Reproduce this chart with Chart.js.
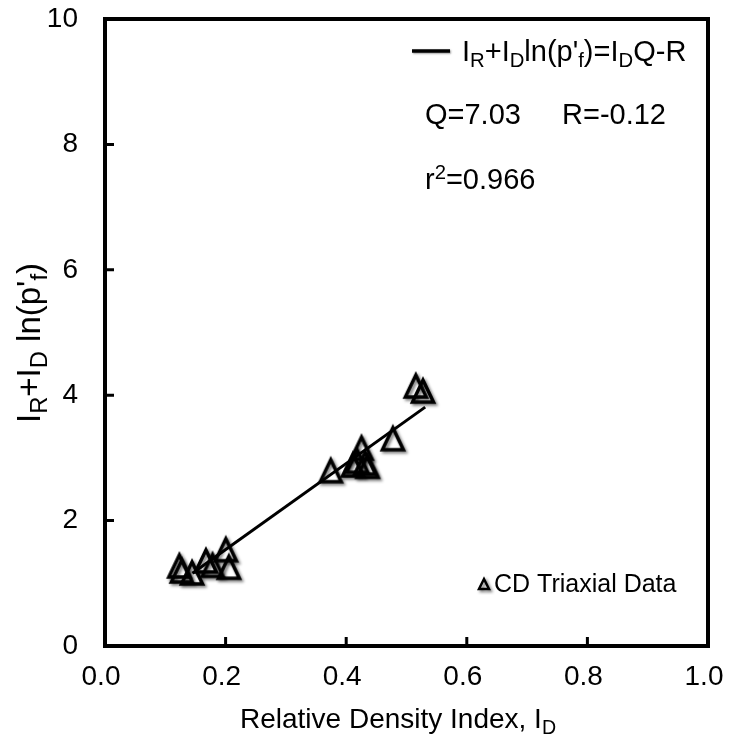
<!DOCTYPE html>
<html>
<head>
<meta charset="utf-8">
<script src="https://cdn.jsdelivr.net/npm/chart.js@4.4.1/dist/chart.umd.min.js"></script>
<style>
  html, body { margin: 0; padding: 0; background: #fff; }
  canvas { display: block; }
</style>
</head>
<body>
<canvas id="canvas" width="736" height="746"></canvas>
<script>
// CD triaxial data: relative density index vs IR + ID ln(p'f)
const relDensity = [0.125, 0.129, 0.146, 0.169, 0.180, 0.202, 0.207, 0.376, 0.413, 0.420, 0.427, 0.433, 0.437, 0.479, 0.517, 0.529];
const dilatancy  = [1.26, 1.18, 1.15, 1.34, 1.27, 1.52, 1.24, 2.78, 2.87, 2.93, 3.14, 2.90, 2.85, 3.29, 4.13, 4.05];

// fitted line, end points
const fitX = [0.145, 0.531];
const fitY = [1.16, 3.81];

const xTicks = [0, 0.2, 0.4, 0.6, 0.8, 1.0];
const yTicks = [0, 2, 4, 6, 8, 10];

const FONT = '"Liberation Sans", Arial, sans-serif';
const FS = 28;

// triangle marker, Excel style with a soft shadow
function makeTriangle(size, h, w, lw) {
  let c = document.createElement('canvas');
  c.width = size; c.height = size;
  let g = c.getContext('2d');
  let cx = size / 2 - 1, cy = size / 2 - 1;
  g.shadowColor = 'rgba(0,0,0,0.5)';
  g.shadowBlur = 3;
  g.shadowOffsetX = 2;
  g.shadowOffsetY = 2;
  g.lineWidth = lw;
  g.lineJoin = 'miter';
  g.strokeStyle = '#000';
  g.beginPath();
  g.moveTo(cx, cy - h / 2);
  g.lineTo(cx + w / 2, cy + h / 2);
  g.lineTo(cx - w / 2, cy + h / 2);
  g.closePath();
  g.stroke();
  return c;
}
const triMarker = makeTriangle(40, 22, 21, 3.5);
const triSmall = makeTriangle(20, 10, 10, 2.5);

// draw text pieces with sub/superscripts, returns end x
function richText(ctx, parts, x, y, size, subScale) {
  subScale = subScale || 0.7;
  ctx.textBaseline = 'alphabetic';
  ctx.textAlign = 'left';
  for (let p of parts) {
    let t = p[0], kind = p[1] || 'n';
    let s = kind === 'n' ? size : size * subScale;
    let dy = kind === 'sub' ? size * 0.22 : (kind === 'sup' ? -size * 0.36 : 0);
    ctx.font = s + 'px ' + FONT;
    ctx.fillText(t, x, y + dy);
    x += ctx.measureText(t).width;
  }
  return x;
}
function richWidth(ctx, parts, size, subScale) {
  subScale = subScale || 0.7;
  let w = 0;
  for (let p of parts) {
    let s = (p[1] || 'n') === 'n' ? size : size * subScale;
    ctx.font = s + 'px ' + FONT;
    w += ctx.measureText(p[0]).width;
  }
  return w;
}

const framePlugin = {
  id: 'frame',
  afterDraw(chart) {
    let ctx = chart.ctx;
    let a = chart.chartArea;
    let xs = chart.scales.x, ys = chart.scales.y;
    ctx.save();
    ctx.strokeStyle = '#000';
    ctx.lineWidth = 4;
    ctx.strokeRect(a.left, a.top, a.right - a.left, a.bottom - a.top);
    // inward ticks
    ctx.lineWidth = 3;
    ctx.beginPath();
    for (let v of xTicks.slice(1, -1)) {
      let px = xs.getPixelForValue(v);
      ctx.moveTo(px, a.bottom);
      ctx.lineTo(px, a.bottom - 9);
    }
    for (let v of yTicks.slice(1, -1)) {
      let py = ys.getPixelForValue(v);
      ctx.moveTo(a.left, py);
      ctx.lineTo(a.left + 9, py);
    }
    ctx.stroke();

    ctx.fillStyle = '#000';
    // axis titles
    let xt = [['Relative Density Index, I'], ['D', 'sub']];
    let w = richWidth(ctx, xt, FS);
    richText(ctx, xt, 398 - w / 2, 728, FS);

    let yt = [['I'], ['R', 'sub'], ['+I'], ['D', 'sub'], [' ln(p\''], ['f', 'sub'], [')']];
    w = richWidth(ctx, yt, 33, 0.72);
    ctx.save();
    ctx.translate(40, 343);
    ctx.rotate(-Math.PI / 2);
    richText(ctx, yt, -w / 2, 0, 33, 0.72);
    ctx.restore();

    // legend for the fit line
    ctx.save();
    ctx.shadowColor = 'rgba(0,0,0,0.4)';
    ctx.shadowBlur = 2;
    ctx.shadowOffsetX = 1;
    ctx.shadowOffsetY = 1;
    ctx.lineWidth = 3.5;
    ctx.beginPath();
    ctx.moveTo(412, 51);
    ctx.lineTo(450, 51);
    ctx.stroke();
    ctx.restore();
    richText(ctx, [['I'], ['R', 'sub'], ['+I'], ['D', 'sub'], ['ln(p\''], ['f', 'sub'], [')=I'], ['D', 'sub'], ['Q-R']], 462, 61, 29);
    richText(ctx, [['Q=7.03']], 425, 124, 29);
    richText(ctx, [['R=-0.12']], 562, 124, 29);
    richText(ctx, [['r'], ['2', 'sup'], ['=0.966']], 425, 189, 29);

    // legend for the data
    ctx.drawImage(triSmall, 484 - 9, 584 - 9);
    richText(ctx, [['CD Triaxial Data']], 494, 592, 25);
    ctx.restore();
  }
};

let points = relDensity.map((v, i) => ({ x: v, y: dilatancy[i] }));
let fitLine = fitX.map((v, i) => ({ x: v, y: fitY[i] }));

function noPad(s) {
  s.paddingTop = 0; s.paddingBottom = 0;
  s.paddingLeft = 0; s.paddingRight = 0;
}

new Chart(document.getElementById('canvas'), {
  type: 'scatter',
  data: {
    datasets: [
      {
        label: 'fit',
        data: fitLine,
        showLine: true,
        borderColor: '#000',
        borderWidth: 3,
        pointRadius: 0,
        order: 0
      },
      {
        label: 'CD Triaxial Data',
        data: points,
        pointStyle: triMarker,
        order: 1
      }
    ]
  },
  options: {
    responsive: false,
    animation: false,
    devicePixelRatio: 1,
    layout: { padding: { top: 19, right: 28, left: 0, bottom: 0 } },
    plugins: { legend: { display: false }, tooltip: { enabled: false } },
    scales: {
      x: {
        type: 'linear', min: 0, max: 1,
        afterBuildTicks: s => { s.ticks = xTicks.map(v => ({ value: v })); },
        afterFit: s => { s.height = 100; noPad(s); },
        grid: { drawOnChartArea: false, drawTicks: false },
        border: { display: false },
        ticks: {
          padding: 14, color: '#000', labelOffset: -4,
          font: { family: FONT, size: FS },
          callback: v => v.toFixed(1)
        }
      },
      y: {
        type: 'linear', min: 0, max: 10,
        afterBuildTicks: s => { s.ticks = yTicks.map(v => ({ value: v })); },
        afterFit: s => { s.width = 105; noPad(s); },
        grid: { drawOnChartArea: false, drawTicks: false },
        border: { display: false },
        ticks: {
          padding: 27, color: '#000',
          font: { family: FONT, size: FS }
        }
      }
    }
  },
  plugins: [framePlugin]
});
</script>
</body>
</html>
